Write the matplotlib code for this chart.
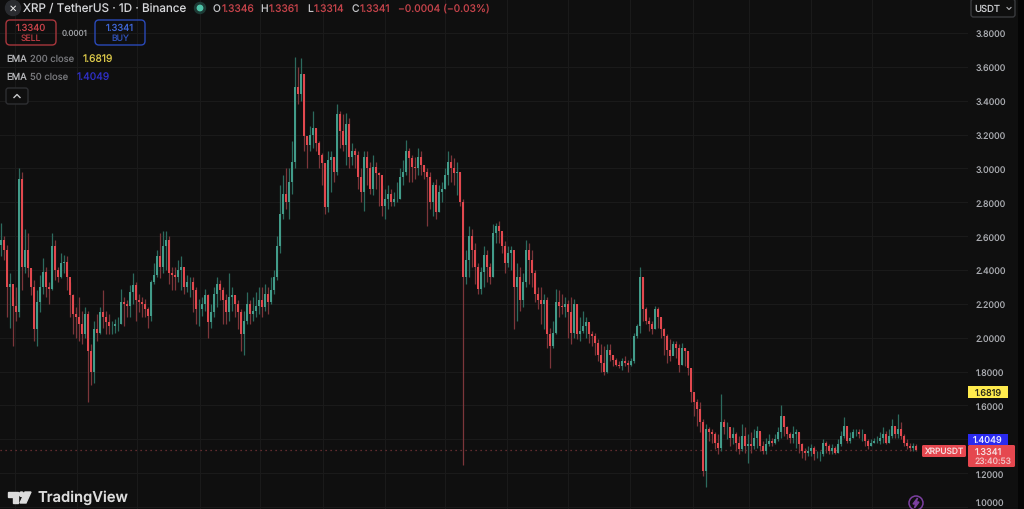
import matplotlib
matplotlib.use("Agg")
import matplotlib.pyplot as plt
from matplotlib.patches import FancyBboxPatch, Rectangle, Circle, Polygon

# one row = ten sessions
closes = [
    2.58,2.52,2.30,2.32,2.19,2.15,2.94,2.42,2.52,2.41,
    2.30,2.05,2.21,2.30,2.39,2.30,2.29,2.54,2.40,2.36,
    2.44,2.45,2.36,2.25,2.14,2.12,2.08,2.02,2.14,1.92,
    1.80,2.05,2.03,2.15,2.12,2.09,2.07,2.07,2.08,2.08,
    2.21,2.20,2.19,2.27,2.31,2.22,2.21,2.20,2.17,2.13,
    2.33,2.37,2.48,2.42,2.54,2.58,2.38,2.37,2.36,2.40,
    2.42,2.30,2.33,2.33,2.28,2.17,2.17,2.20,2.25,2.09,
    2.15,2.26,2.32,2.28,2.22,2.15,2.24,2.25,2.20,2.15,
    2.02,2.10,2.20,2.14,2.16,2.19,2.22,2.18,2.26,2.21,
    2.28,2.36,2.54,2.73,2.85,2.80,2.92,3.04,3.48,3.44,
    3.56,3.19,3.14,3.20,3.24,3.15,3.08,3.03,2.77,3.05,
    3.07,2.98,3.32,3.22,3.14,3.26,3.07,3.10,3.08,2.95,
    2.86,3.07,3.00,2.88,3.01,2.97,2.96,2.78,2.82,2.85,
    2.80,2.82,2.82,2.95,2.98,3.10,3.06,3.01,3.00,3.07,
    3.02,2.98,2.95,2.80,2.90,2.74,2.86,2.88,2.96,3.04,
    3.00,2.97,2.98,2.80,2.36,2.46,2.60,2.52,2.42,2.29,
    2.39,2.49,2.42,2.36,2.62,2.66,2.63,2.54,2.44,2.50,
    2.52,2.30,2.36,2.22,2.33,2.52,2.46,2.38,2.26,2.22,
    2.20,2.22,2.02,1.95,2.03,2.21,2.19,2.18,2.20,2.15,
    2.03,2.20,2.02,2.04,2.07,2.09,2.02,2.01,1.97,1.90,
    1.85,1.80,1.93,1.90,1.87,1.84,1.83,1.86,1.85,1.84,
    1.86,2.01,2.07,2.36,2.17,2.10,2.08,2.05,2.17,2.12,
    2.05,2.01,1.93,1.89,1.96,1.94,1.84,1.94,1.92,1.82,
    1.68,1.62,1.58,1.50,1.21,1.46,1.44,1.43,1.38,1.35,
    1.50,1.47,1.47,1.41,1.43,1.38,1.34,1.42,1.36,1.37,
    1.36,1.41,1.45,1.36,1.33,1.37,1.39,1.38,1.40,1.44,
    1.54,1.47,1.43,1.41,1.43,1.44,1.37,1.33,1.32,1.33,
    1.35,1.31,1.31,1.31,1.38,1.36,1.33,1.35,1.32,1.37,
    1.42,1.48,1.39,1.41,1.44,1.44,1.43,1.43,1.39,1.36,
    1.38,1.39,1.39,1.41,1.43,1.38,1.42,1.48,1.43,1.46,
    1.42,1.38,1.36,1.35,1.36,1.334,
]
highs = [
    2.68,2.60,2.55,2.38,2.24,2.30,3.00,2.98,2.64,2.62,
    2.41,2.34,2.28,2.37,2.47,2.42,2.33,2.62,2.58,2.42,
    2.50,2.49,2.48,2.33,2.26,2.18,2.24,2.16,2.18,2.16,
    1.96,2.10,2.14,2.18,2.28,2.16,2.14,2.10,2.11,2.12,
    2.29,2.24,2.22,2.31,2.38,2.33,2.26,2.24,2.23,2.18,
    2.34,2.44,2.52,2.62,2.63,2.63,2.60,2.42,2.42,2.46,
    2.48,2.36,2.37,2.36,2.36,2.30,2.23,2.24,2.29,2.26,
    2.20,2.30,2.36,2.34,2.30,2.26,2.38,2.30,2.25,2.22,
    2.17,2.16,2.27,2.22,2.24,2.27,2.30,2.30,2.32,2.30,
    2.36,2.40,2.60,2.90,2.96,3.00,3.00,3.16,3.66,3.60,
    3.65,3.56,3.19,3.25,3.34,3.24,3.16,3.09,3.03,3.10,
    3.10,3.07,3.38,3.34,3.32,3.33,3.30,3.15,3.12,3.10,
    3.00,3.10,3.10,3.04,3.08,3.04,2.98,2.90,2.88,2.90,
    2.88,2.86,2.92,3.00,3.05,3.17,3.12,3.08,3.07,3.12,
    3.10,3.02,3.00,2.98,2.92,2.94,2.90,2.92,3.00,3.10,
    3.08,3.06,3.04,2.98,2.82,2.52,2.66,2.64,2.56,2.44,
    2.42,2.54,2.52,2.44,2.67,2.68,2.69,2.62,2.57,2.54,
    2.54,2.40,2.44,2.42,2.38,2.58,2.56,2.52,2.40,2.30,
    2.30,2.26,2.24,2.06,2.10,2.29,2.28,2.26,2.24,2.22,
    2.24,2.23,2.20,2.12,2.16,2.12,2.08,2.04,2.03,1.99,
    1.96,1.95,1.96,1.96,1.90,1.88,1.86,1.88,1.89,1.87,
    1.88,2.03,2.08,2.42,2.36,2.18,2.12,2.10,2.19,2.18,
    2.12,2.06,2.02,1.99,1.98,1.98,1.96,1.97,1.94,1.92,
    1.82,1.68,1.64,1.62,1.52,1.49,1.47,1.46,1.44,1.43,
    1.67,1.52,1.50,1.46,1.47,1.44,1.42,1.49,1.47,1.43,
    1.44,1.46,1.48,1.44,1.39,1.41,1.43,1.41,1.43,1.47,
    1.60,1.54,1.48,1.44,1.48,1.46,1.44,1.38,1.35,1.36,
    1.37,1.36,1.33,1.33,1.40,1.39,1.37,1.37,1.36,1.40,
    1.45,1.53,1.48,1.44,1.46,1.46,1.46,1.46,1.43,1.40,
    1.40,1.41,1.42,1.44,1.47,1.45,1.46,1.52,1.48,1.55,
    1.50,1.43,1.40,1.38,1.38,1.37,
]
lows = [
    2.48,2.46,2.12,2.06,1.95,2.10,2.12,2.28,2.38,2.36,
    2.25,1.98,1.95,2.15,2.26,2.24,2.20,2.28,2.34,2.33,
    2.35,2.38,2.28,2.12,2.02,2.00,1.98,1.96,2.00,1.62,
    1.72,1.73,1.98,2.02,2.06,2.02,2.02,2.02,2.03,2.04,
    2.08,2.07,2.12,2.12,2.20,2.10,2.15,2.12,2.12,2.06,
    2.10,2.32,2.36,2.35,2.38,2.40,2.32,2.28,2.28,2.33,
    2.28,2.26,2.27,2.24,2.15,2.08,2.07,2.13,2.16,2.00,
    2.06,2.12,2.18,2.22,2.08,2.08,2.10,2.16,2.12,2.05,
    1.92,1.90,2.08,2.08,2.10,2.12,2.14,2.12,2.16,2.14,
    2.20,2.26,2.34,2.50,2.70,2.76,2.70,2.85,3.00,3.38,
    3.40,3.10,3.00,3.10,3.12,3.10,3.00,2.90,2.73,2.74,
    2.86,2.92,2.96,3.12,3.10,3.02,3.00,3.02,3.00,2.88,
    2.80,2.75,2.90,2.85,2.84,2.88,2.78,2.72,2.70,2.76,
    2.78,2.78,2.80,2.82,2.90,2.96,2.92,2.92,2.94,2.96,
    2.96,2.94,2.66,2.76,2.72,2.70,2.74,2.80,2.88,2.90,
    2.92,2.90,2.84,2.78,1.25,2.32,2.36,2.42,2.32,2.26,
    2.26,2.30,2.33,2.32,2.36,2.56,2.56,2.50,2.38,2.42,
    2.40,2.05,2.10,2.16,2.18,2.30,2.32,2.30,2.21,2.17,
    2.08,2.05,1.94,1.82,1.94,2.02,2.12,2.14,2.12,2.00,
    1.96,2.00,1.99,1.98,2.03,2.00,1.97,1.95,1.90,1.86,
    1.80,1.78,1.79,1.86,1.83,1.83,1.82,1.81,1.83,1.80,
    1.83,1.85,2.00,2.03,2.10,2.08,2.04,2.02,2.05,2.06,
    2.00,1.90,1.85,1.86,1.90,1.88,1.80,1.84,1.83,1.78,
    1.62,1.54,1.48,1.44,1.18,1.12,1.39,1.38,1.34,1.31,
    1.33,1.43,1.40,1.36,1.37,1.33,1.31,1.33,1.32,1.26,
    1.32,1.34,1.35,1.33,1.31,1.31,1.36,1.36,1.37,1.39,
    1.41,1.42,1.40,1.38,1.38,1.35,1.32,1.29,1.28,1.30,
    1.30,1.28,1.29,1.27,1.30,1.32,1.31,1.31,1.31,1.32,
    1.36,1.41,1.38,1.38,1.41,1.42,1.41,1.39,1.36,1.34,
    1.36,1.38,1.38,1.37,1.38,1.37,1.38,1.41,1.41,1.41,
    1.40,1.36,1.34,1.33,1.33,1.33,
]
first_open = 2.55
last_price = 1.3341
ema200 = 1.6819
ema50 = 1.4049

price_ticks = [1.0, 1.2, 1.4, 1.6, 1.8, 2.0, 2.2, 2.4, 2.6, 2.8, 3.0, 3.2, 3.4, 3.6, 3.8]
price_labels = ["1.0000", "1.2000", "", "1.6000", "1.8000", "2.0000", "2.2000", "2.4000",
                "2.6000", "2.8000", "3.0000", "3.2000", "3.4000", "3.6000", "3.8000"]
month_lines = [15, 77, 137, 200, 260, 323, 385, 445, 507, 568, 630, 693, 749, 811, 872]

BG = "#0f0f0f"
GRID = "#1a1a1a"
RED = "#e2484e"
GREEN = "#429c8a"
RED_WICK = "#7c363a"
GREEN_WICK = "#2c6a5e"
AXIS_TEXT = "#a9abb0"

plt.rcParams['font.family'] = ['Inter', 'DejaVu Sans']
plt.rcParams['text.hinting'] = 'no_hinting'
plt.rcParams['text.hinting_factor'] = 1

fig = plt.figure(figsize=(10.24, 5.10), dpi=100, facecolor=BG)
ax = fig.add_axes([0, 0, 968 / 1024, 1], facecolor=BG)

# candle x is just the chart pixel column, sessions are 3 apart
xs = [1 + 3 * i for i in range(len(closes))]
opens = [first_open] + closes[:-1]
up = [c >= o for c, o in zip(closes, opens)]
body_col = [GREEN if u else RED for u in up]
wick_col = [GREEN_WICK if u else RED_WICK for u in up]

ax.vlines(xs, lows, highs, colors=wick_col, linewidth=0.9, zorder=2)
ax.bar(xs, [abs(c - o) for c, o in zip(closes, opens)],
       bottom=[min(c, o) for c, o in zip(closes, opens)],
       width=2.5, color=body_col, linewidth=0, zorder=3)
ax.plot([0, xs[-1]], [last_price, last_price], color="#7c363a", linewidth=0.9,
        linestyle=(0, (1, 3)), zorder=1)

ax.set_xlim(0, 968)
ax.set_ylim(0.988, 4.0008)
ax.set_xticks(month_lines)
ax.set_yticks(price_ticks)
ax.set_yticklabels(price_labels)
ax.yaxis.tick_right()
ax.tick_params(axis='y', length=0, pad=5.5, labelsize=6.4, labelcolor=AXIS_TEXT)
ax.tick_params(axis='x', length=0, labelbottom=False)
ax.get_yticklabels()[0].set_va('bottom')  # sits on the picture's lower edge
ax.grid(True, color=GRID, linewidth=0.8)
ax.set_axisbelow(True)
for side in ax.spines.values():
    side.set_visible(False)

# overlay in picture pixels for the TradingView furniture
ui = fig.add_axes([0, 0, 1, 1], facecolor='none')
ui.set_xlim(0, 1024)
ui.set_ylim(510, 0)
ui.axis('off')


def box(x0, y0, x1, y1, face='none', edge='none', lw=1.0, r=2.0):
    ui.add_patch(FancyBboxPatch((x0 + r, y0 + r), x1 - x0 - 2 * r, y1 - y0 - 2 * r,
                                boxstyle=f"round,pad={r},rounding_size={r}",
                                facecolor=face, edgecolor=edge, linewidth=lw))


def label(x, y, s, color, size=6.4, ha='left', weight='normal'):
    ui.text(x, y, s, color=color, fontsize=size, ha=ha, va='center', fontweight=weight)


# header line
ui.add_patch(Circle((13, 9), 7.5, color="#2a2c30"))
label(13, 9, "✕", "#e8e8e8", size=7, ha='center')
label(23, 9, "XRP / TetherUS · 1D · Binance", "#d6d7da", size=8.4)
ui.add_patch(Circle((200, 9), 5.5, color="#1d3a35"))
ui.add_patch(Circle((200, 9), 2.7, color="#4fc3a8"))
hdr_gray = "#c4c5c8"
hdr_red = "#c5434a"
for x, s, c in [(213, "O", hdr_gray), (222, "1.3346", hdr_red), (260, "H", hdr_gray), (269, "1.3361", hdr_red),
                (307, "L", hdr_gray), (314, "1.3314", hdr_red), (352, "C", hdr_gray), (360, "1.3341", hdr_red),
                (398, "−0.0004 (−0.03%)", hdr_red)]:
    label(x, 9, s, c, size=7.4)

# sell / buy
box(6, 21, 56, 46, edge="#a8363c", lw=1.0, r=4)
label(31, 28.5, "1.3340", "#c8434a", size=6.8, ha='center')
label(31, 39, "SELL", "#b23a40", size=6.2, ha='center')
label(75, 34, "0.0001", "#9a9ca0", size=5.8, ha='center')
box(95, 21, 145, 46, edge="#2a49b8", lw=1.0, r=4)
label(120, 28.5, "1.3341", "#3f66d6", size=6.8, ha='center')
label(120, 39, "BUY", "#2f50b4", size=6.2, ha='center')

# indicator legend
label(6, 59, "EMA", "#b4b5b8", size=6.8)
label(30, 59, "200 close", "#77787c", size=6.8)
label(83, 59, "1.6819", "#dcc94a", size=7.4)
label(6, 77, "EMA", "#b4b5b8", size=6.8)
label(30, 77, "50 close", "#77787c", size=6.8)
label(77, 77, "1.4049", "#2f2fc8", size=7.4)
box(6, 89, 28, 105, face=BG, edge="#2e2f32", lw=1.0, r=2.5)
ui.plot([14, 17, 20], [98.5, 95.5, 98.5], color="#c8c9cc", linewidth=1.0)

# currency button and the axis strip
ui.add_patch(Rectangle((1018, 0), 6, 510, facecolor="#050505", edgecolor='none'))
box(971, 0, 1015, 18, face=BG, edge="#3a3b3e", lw=1.0, r=2.5)
label(974, 9.5, "USDT", "#c8c9cc", size=6.8)
ui.plot([1007, 1009, 1011], [8.5, 10.5, 8.5], color="#b4b5b8", linewidth=0.8)

# price tags
ui.add_patch(Rectangle((968, 387), 40, 12, facecolor="#ffeb4d", edgecolor='none'))
label(988, 393, "1.6819", "#2b2b1a", size=6.6, ha='center')
ui.add_patch(Rectangle((968, 435), 40, 11, facecolor="#2a2af0", edgecolor='none'))
label(988, 440.5, "1.4049", "#e8e8ff", size=6.6, ha='center')
box(922, 446, 966, 458, face="#e5474f", r=1.5)
label(944, 452, "XRPUSDT", "#f6dfe0", size=6.0, ha='center')
box(968, 446, 1015, 468, face="#e5474f", r=1.5)
label(975, 452, "1.3341", "#f6dfe0", size=6.6)
label(975, 462, "23:40:53", "#f2c4c6", size=6.2)

# lightning badge
ui.add_patch(Circle((916, 504), 7, facecolor=BG, edgecolor="#7b3fa0", linewidth=1.1))
ui.add_patch(Polygon([(917.5, 499), (913, 505), (915.7, 505), (914.5, 509), (919, 503), (916.3, 503)],
                     closed=True, color="#7b3fa0"))

# TradingView mark
logo = "#dcdcdc"
ui.add_patch(Polygon([(8, 493), (18, 493), (18, 504), (13, 504), (13, 497.5), (8, 497.5)], closed=True, color=logo))
ui.add_patch(Circle((21.5, 495.2), 2.2, color=logo))
ui.add_patch(Polygon([(25, 493), (31, 493), (26, 504), (20, 504)], closed=True, color=logo))
label(37, 498, "TradingView", logo, size=10.6, weight='semibold')

fig.savefig("out.png", dpi=100, facecolor=BG)
